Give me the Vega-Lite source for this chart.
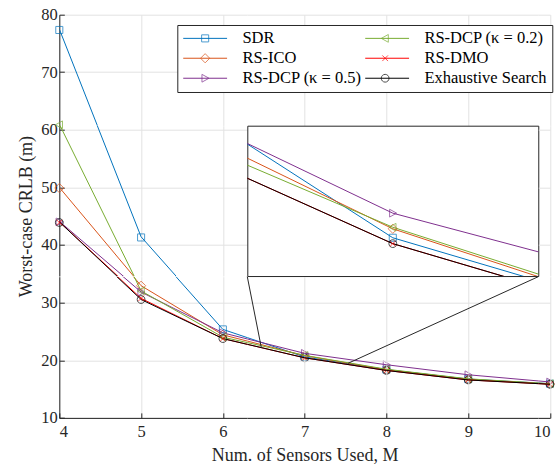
{
  "$schema": "https://vega.github.io/schema/vega-lite/v6.json",
  "padding": {"left": 17.3, "top": 6.7, "right": 0, "bottom": 0},
  "bounds": "flush",
  "align": "each",
  "columns": 3,
  "spacing": 0,
  "resolve": {"scale": {"x": "independent", "y": "independent"}},
  "datasets": {
    "crlb": [
      {"M": 4, "method": "SDR", "crlb": 77.5},
      {"M": 5, "method": "SDR", "crlb": 41.4},
      {"M": 6, "method": "SDR", "crlb": 25.4},
      {"M": 7, "method": "SDR", "crlb": 20.6},
      {"M": 8, "method": "SDR", "crlb": 18.4},
      {"M": 9, "method": "SDR", "crlb": 16.75},
      {"M": 10, "method": "SDR", "crlb": 15.95},
      {"M": 4, "method": "RS-ICO", "crlb": 50.0},
      {"M": 5, "method": "RS-ICO", "crlb": 33.0},
      {"M": 6, "method": "RS-ICO", "crlb": 24.45},
      {"M": 7, "method": "RS-ICO", "crlb": 20.83},
      {"M": 8, "method": "RS-ICO", "crlb": 18.38},
      {"M": 9, "method": "RS-ICO", "crlb": 16.7},
      {"M": 10, "method": "RS-ICO", "crlb": 15.9},
      {"M": 4, "method": "RS-DCP (κ = 0.5)", "crlb": 44.1},
      {"M": 5, "method": "RS-DCP (κ = 0.5)", "crlb": 31.9},
      {"M": 6, "method": "RS-DCP (κ = 0.5)", "crlb": 24.8},
      {"M": 7, "method": "RS-DCP (κ = 0.5)", "crlb": 21.23},
      {"M": 8, "method": "RS-DCP (κ = 0.5)", "crlb": 19.25},
      {"M": 9, "method": "RS-DCP (κ = 0.5)", "crlb": 17.5},
      {"M": 10, "method": "RS-DCP (κ = 0.5)", "crlb": 16.25},
      {"M": 4, "method": "RS-DCP (κ = 0.2)", "crlb": 61.0},
      {"M": 5, "method": "RS-DCP (κ = 0.2)", "crlb": 32.1},
      {"M": 6, "method": "RS-DCP (κ = 0.2)", "crlb": 24.05},
      {"M": 7, "method": "RS-DCP (κ = 0.2)", "crlb": 20.87},
      {"M": 8, "method": "RS-DCP (κ = 0.2)", "crlb": 18.47},
      {"M": 9, "method": "RS-DCP (κ = 0.2)", "crlb": 16.8},
      {"M": 10, "method": "RS-DCP (κ = 0.2)", "crlb": 15.95},
      {"M": 4, "method": "RS-DMO", "crlb": 44.0},
      {"M": 5, "method": "RS-DMO", "crlb": 30.8},
      {"M": 6, "method": "RS-DMO", "crlb": 23.8},
      {"M": 7, "method": "RS-DMO", "crlb": 20.45},
      {"M": 8, "method": "RS-DMO", "crlb": 18.25},
      {"M": 9, "method": "RS-DMO", "crlb": 16.6},
      {"M": 10, "method": "RS-DMO", "crlb": 15.85},
      {"M": 4, "method": "Exhaustive Search", "crlb": 44.0},
      {"M": 5, "method": "Exhaustive Search", "crlb": 30.6},
      {"M": 6, "method": "Exhaustive Search", "crlb": 23.8},
      {"M": 7, "method": "Exhaustive Search", "crlb": 20.45},
      {"M": 8, "method": "Exhaustive Search", "crlb": 18.25},
      {"M": 9, "method": "Exhaustive Search", "crlb": 16.6},
      {"M": 10, "method": "Exhaustive Search", "crlb": 15.85}
    ],
    "conn": [
      {"x": 6.298, "y": 34.57, "x2": 6.47, "y2": 22.2},
      {"x": 9.856, "y": 34.57, "x2": 7.53, "y2": 19.5}
    ]
  },
  "config": {
    "font": "Liberation Serif",
    "view": {"stroke": null},
    "style": {
      "guide-label": {"font": "Liberation Serif"},
      "guide-title": {"font": "Liberation Serif"}
    },
    "axis": {
      "labelFont": "Liberation Serif",
      "labelFontSize": 16.5,
      "labelColor": "#262626",
      "titleFont": "Liberation Serif",
      "titleFontSize": 18,
      "titleFontWeight": "normal",
      "titleColor": "#262626",
      "domainColor": "#262626",
      "tickColor": "#262626",
      "gridColor": "#e2e2e2",
      "gridWidth": 1
    },
    "legend": {
      "orient": "none",
      "legendX": 118,
      "legendY": 10.3,
      "columns": 2,
      "columnPadding": 0,
      "rowPadding": 3,
      "padding": 5,
      "fillColor": "white",
      "strokeColor": "#262626",
      "cornerRadius": 0,
      "labelFont": "Liberation Serif",
      "labelFontSize": 16.5,
      "labelColor": "#000000",
      "labelLimit": 0,
      "symbolSize": 50,
      "symbolStrokeWidth": 1,
      "symbolOffset": 14.6,
      "labelOffset": 29
    }
  },
  "concat": [
    {
      "width": 187.938,
      "height": 110.747,
      "data": {"name": "crlb"},
      "mark": {"type": "line", "strokeWidth": 1, "clip": true},
      "encoding": {
        "x": {"field": "M", "type": "quantitative", "scale": {"domain": [4, 6.298], "nice": false, "zero": false}, "axis": {"values": [4, 5, 6], "labels": false, "ticks": false, "domain": false, "title": null}},
        "y": {"field": "crlb", "type": "quantitative", "scale": {"domain": [60.73, 80], "nice": false, "zero": false}, "axis": {"values": [70, 80], "format": "d", "tickSize": -5, "labelPadding": 7, "title": null}},
        "stroke": {
          "field": "method", "type": "nominal",
          "scale": {
            "domain": ["SDR", "RS-ICO", "RS-DCP (κ = 0.5)", "RS-DCP (κ = 0.2)", "RS-DMO", "Exhaustive Search", "-"],
            "range": ["#0072BD", "#D95319", "#7E2F8E", "#77AC30", "#FF0000", "#000000", "#ffffff"]
          }
        }
      }
    },
    {
      "width": 290.985,
      "height": 110.747,
      "data": {"name": "crlb"},
      "mark": {"type": "line", "strokeWidth": 1, "clip": true},
      "encoding": {
        "x": {"field": "M", "type": "quantitative", "scale": {"domain": [6.298, 9.856], "nice": false, "zero": false}, "axis": {"values": [7, 8, 9], "labels": false, "ticks": false, "domain": false, "title": null}},
        "y": {"field": "crlb", "type": "quantitative", "scale": {"domain": [60.73, 80], "nice": false, "zero": false}, "axis": {"values": [70, 80], "labels": false, "ticks": false, "domain": false, "title": null}},
        "stroke": {"field": "method", "type": "nominal"}
      }
    },
    {
      "width": 11.777,
      "height": 110.747,
      "data": {"name": "crlb"},
      "mark": {"type": "line", "strokeWidth": 1, "clip": true},
      "encoding": {
        "x": {"field": "M", "type": "quantitative", "scale": {"domain": [9.856, 10], "nice": false, "zero": false}, "axis": {"values": [10], "labels": false, "ticks": false, "domain": false, "title": null}},
        "y": {"field": "crlb", "type": "quantitative", "scale": {"domain": [60.73, 80], "nice": false, "zero": false}, "axis": {"values": [70, 80], "labels": false, "ticks": false, "domain": false, "title": null}},
        "stroke": {"field": "method", "type": "nominal"}
      }
    },
    {
      "width": 187.938,
      "height": 150.345,
      "data": {"name": "crlb"},
      "mark": {"type": "line", "strokeWidth": 1, "clip": true},
      "encoding": {
        "x": {"field": "M", "type": "quantitative", "scale": {"domain": [4, 6.298], "nice": false, "zero": false}, "axis": {"values": [4, 5, 6], "labels": false, "ticks": false, "domain": false, "title": null}},
        "y": {"field": "crlb", "type": "quantitative", "scale": {"domain": [34.57, 60.73], "nice": false, "zero": false}, "axis": {"values": [40, 50, 60], "format": "d", "tickSize": -5, "labelPadding": 7, "title": "Worst-case CRLB (m)", "titlePadding": 5, "titleY": 90.4}},
        "stroke": {"field": "method", "type": "nominal"}
      }
    },
    {
      "width": 290.985,
      "height": 150.345,
      "view": {"stroke": "#262626", "strokeWidth": 1, "fill": "white"},
      "data": {"name": "crlb"},
      "layer": [
        {
          "mark": {"type": "line", "strokeWidth": 1, "clip": true},
          "encoding": {
            "x": {"field": "M", "type": "quantitative", "scale": {"domain": [6.5, 7.5], "nice": false, "zero": false}, "axis": null},
            "y": {"field": "crlb", "type": "quantitative", "scale": {"domain": [19.62, 23.47], "nice": false, "zero": false}, "axis": null},
            "stroke": {"field": "method", "type": "nominal"}
          }
        },
        {
          "mark": {"type": "point", "filled": false, "size": 50, "strokeWidth": 1, "clip": true},
          "encoding": {
            "x": {"field": "M", "type": "quantitative"},
            "y": {"field": "crlb", "type": "quantitative"},
            "color": {"field": "method", "type": "nominal"},
            "shape": {"field": "method", "type": "nominal", "legend": null}
          }
        }
      ]
    },
    {
      "width": 11.777,
      "height": 150.345,
      "data": {"name": "crlb"},
      "mark": {"type": "line", "strokeWidth": 1, "clip": true},
      "encoding": {
        "x": {"field": "M", "type": "quantitative", "scale": {"domain": [9.856, 10], "nice": false, "zero": false}, "axis": {"values": [10], "labels": false, "ticks": false, "domain": false, "title": null}},
        "y": {"field": "crlb", "type": "quantitative", "scale": {"domain": [34.57, 60.73], "nice": false, "zero": false}, "axis": {"values": [40, 50, 60], "labels": false, "ticks": false, "domain": false, "title": null}},
        "stroke": {"field": "method", "type": "nominal"}
      }
    },
    {
      "width": 187.938,
      "height": 141.207,
      "layer": [
        {
          "data": {"name": "crlb"},
          "mark": {"type": "line", "strokeWidth": 1, "clip": true},
          "encoding": {
            "x": {"field": "M", "type": "quantitative", "scale": {"domain": [4, 6.298], "nice": false, "zero": false}, "axis": {"values": [4, 5, 6], "format": "d", "tickSize": -5, "labelPadding": 11, "title": "Num. of Sensors Used, M", "titlePadding": 6, "titleX": 245.35}},
            "y": {"field": "crlb", "type": "quantitative", "scale": {"domain": [10, 34.57], "nice": false, "zero": false}, "axis": {"values": [10, 20, 30], "format": "d", "tickSize": -5, "labelPadding": 7, "title": null}},
            "stroke": {
              "field": "method", "type": "nominal",
              "legend": {
                "title": null,
                "values": ["SDR", "RS-ICO", "RS-DCP (κ = 0.5)", "RS-DCP (κ = 0.2)", "RS-DMO", "Exhaustive Search"],
                "symbolType": "M-6.2,0H6.2",
                "labelFont": "Liberation Serif",
                "zindex": 1
              }
            }
          }
        },
        {
          "data": {"name": "crlb"},
          "mark": {"type": "point", "filled": false, "size": 50, "strokeWidth": 1},
          "encoding": {
            "x": {"field": "M", "type": "quantitative"},
            "y": {"field": "crlb", "type": "quantitative"},
            "color": {
              "field": "method", "type": "nominal",
              "scale": {
                "domain": ["SDR", "RS-ICO", "RS-DCP (κ = 0.5)", "RS-DCP (κ = 0.2)", "RS-DMO", "Exhaustive Search"],
                "range": ["#0072BD", "#D95319", "#7E2F8E", "#77AC30", "#FF0000", "#000000"]
              },
              "legend": {
                "title": null,
                "fillColor": "transparent",
                "strokeColor": "transparent",
                "labelOpacity": 0,
                "labelFont": "Liberation Serif",
                "zindex": 2
              }
            },
            "shape": {
              "field": "method", "type": "nominal",
              "scale": {
                "domain": ["SDR", "RS-ICO", "RS-DCP (κ = 0.5)", "RS-DCP (κ = 0.2)", "RS-DMO", "Exhaustive Search"],
                "range": [
                  "M-1,-1H1V1H-1Z",
                  "M0,-1.3L1.3,0L0,1.3L-1.3,0Z",
                  "M1.1,0L-0.9,-1.1L-0.9,1.1Z",
                  "M-1.1,0L0.9,-1.1L0.9,1.1Z",
                  "M-0.8,-0.8L0.8,0.8M-0.8,0.8L0.8,-0.8",
                  "M1.1,0A1.1,1.1,0,1,1,-1.1,0A1.1,1.1,0,1,1,1.1,0Z"
                ]
              },
              "legend": null
            }
          }
        }
      ]
    },
    {
      "width": 290.985,
      "height": 141.207,
      "layer": [
        {
          "data": {"name": "crlb"},
          "mark": {"type": "line", "strokeWidth": 1, "clip": true},
          "encoding": {
            "x": {"field": "M", "type": "quantitative", "scale": {"domain": [6.298, 9.856], "nice": false, "zero": false}, "axis": {"values": [7, 8, 9], "format": "d", "tickSize": -5, "labelPadding": 11, "title": null}},
            "y": {"field": "crlb", "type": "quantitative", "scale": {"domain": [10, 34.57], "nice": false, "zero": false}, "axis": {"values": [10, 20, 30], "labels": false, "ticks": false, "domain": false, "title": null}},
            "stroke": {"field": "method", "type": "nominal"}
          }
        },
        {
          "data": {"name": "conn"},
          "mark": {"type": "rule", "color": "#262626", "strokeWidth": 1},
          "encoding": {
            "x": {"field": "x", "type": "quantitative"},
            "y": {"field": "y", "type": "quantitative"},
            "x2": {"field": "x2"},
            "y2": {"field": "y2"}
          }
        }
      ]
    },
    {
      "width": 11.777,
      "height": 141.207,
      "data": {"name": "crlb"},
      "mark": {"type": "line", "strokeWidth": 1, "clip": true},
      "encoding": {
        "x": {"field": "M", "type": "quantitative", "scale": {"domain": [9.856, 10], "nice": false, "zero": false}, "axis": {"values": [10], "format": "d", "tickSize": -5, "labelPadding": 11, "title": null}},
        "y": {"field": "crlb", "type": "quantitative", "scale": {"domain": [10, 34.57], "nice": false, "zero": false}, "axis": {"values": [10, 20, 30], "labels": false, "ticks": false, "domain": false, "title": null}},
        "stroke": {"field": "method", "type": "nominal"}
      }
    }
  ]
}
